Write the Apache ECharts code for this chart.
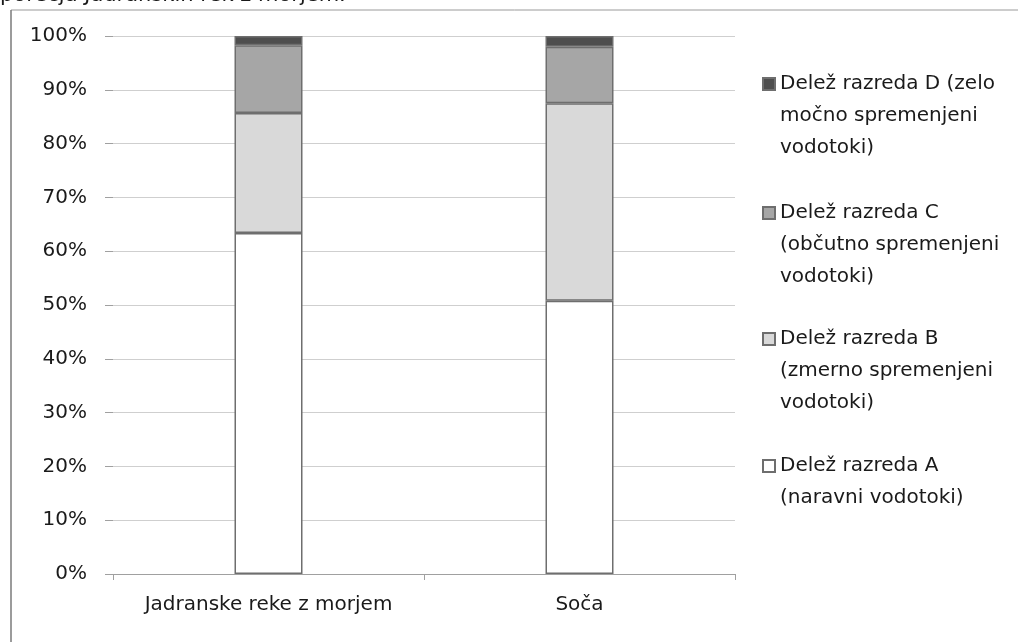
<!DOCTYPE html>
<html>
<head>
<meta charset="utf-8">
<script src="https://cdn.jsdelivr.net/npm/echarts@6/dist/echarts.min.js"></script>
<style>
  html, body { margin: 0; padding: 0; background: #fff; }
  #chart { width: 1018px; height: 642px; }
</style>
</head>
<body>
<div id="chart"></div>
<script>
// Shares of watercourse classes (percent of length) per river basin
const categories = ['Jadranske reke z morjem', 'Soča'];
const classNames = [
  'Delež razreda A\n(naravni vodotoki)',
  'Delež razreda B\n(zmerno spremenjeni\nvodotoki)',
  'Delež razreda C\n(občutno spremenjeni\nvodotoki)',
  'Delež razreda D (zelo\nmočno spremenjeni\nvodotoki)'
];
const classA = [63.4, 50.8];
const classB = [22.3, 36.7];
const classC = [12.6, 10.5];
const classD = [1.7, 2.0];
const classColors = ['#ffffff', '#d9d9d9', '#a6a6a6', '#4e4e4e'];
const yTicks = [0, 10, 20, 30, 40, 50, 60, 70, 80, 90, 100];

const FONT = 'DejaVu Sans';
const seriesValues = [classA, classB, classC, classD];

const series = seriesValues.map((vals, i) => ({
  name: classNames[i],
  type: 'bar',
  stack: 'share',
  barWidth: 68,
  data: vals,
  itemStyle: { color: classColors[i], borderColor: '#6e6e6e', borderWidth: 1.5 }
}));

// One legend block per class; blank leading lines keep the square beside the first text line
const lineH = 32;
const iconCenters = [466, 339, 213, 84];
const legends = classNames.map((name, i) => {
  const lines = name.split('\n').length;
  const total = 2 * lines - 1;
  return {
    orient: 'vertical',
    left: 762,
    top: iconCenters[i] - (total * lineH) / 2,
    padding: 0,
    itemWidth: 12,
    itemHeight: 12,
    itemGap: 0,
    icon: 'rect',
    selectedMode: false,
    formatter: n => '\n'.repeat(lines - 1) + n,
    textStyle: { fontFamily: FONT, fontSize: 20, color: '#1a1a1a', lineHeight: lineH },
    data: [name]
  };
});

const chart = echarts.init(document.getElementById('chart'), null, { renderer: 'canvas' });
chart.setOption({
  animation: false,
  backgroundColor: '#ffffff',
  grid: { left: 113, right: 283, top: 36, bottom: 68, containLabel: false },
  legend: legends,
  xAxis: {
    type: 'category',
    data: categories,
    axisLine: { lineStyle: { color: '#a0a0a0', width: 1 } },
    axisTick: { show: true, length: 6, interval: 0, alignWithLabel: false, lineStyle: { color: '#a0a0a0' } },
    axisLabel: { fontFamily: FONT, fontSize: 20, color: '#1a1a1a', margin: 21, interval: 0, hideOverlap: false }
  },
  yAxis: {
    type: 'value',
    min: 0, max: 100, interval: 10,
    axisLine: { show: false },
    axisTick: { show: true, length: 8, lineStyle: { color: '#a0a0a0' } },
    splitLine: { lineStyle: { color: '#cfcfcf', width: 1 } },
    axisLabel: {
      fontFamily: FONT, fontSize: 20, color: '#1a1a1a', margin: 26,
      formatter: v => yTicks.includes(v) ? v + '%' : ''
    }
  },
  graphic: [
    { type: 'line', shape: { x1: 11, y1: 10, x2: 1018, y2: 10 }, style: { stroke: '#9a9a9a', lineWidth: 1 } },
    { type: 'line', shape: { x1: 11, y1: 10, x2: 11, y2: 642 }, style: { stroke: '#7a7a7a', lineWidth: 1.5 } },
    { type: 'text', left: 0, top: -15,
      style: { text: 'porečja Jadranskih rek z morjem.', font: '21px "DejaVu Sans"', fill: '#1a1a1a' } }
  ],
  series
});
</script>
</body>
</html>
